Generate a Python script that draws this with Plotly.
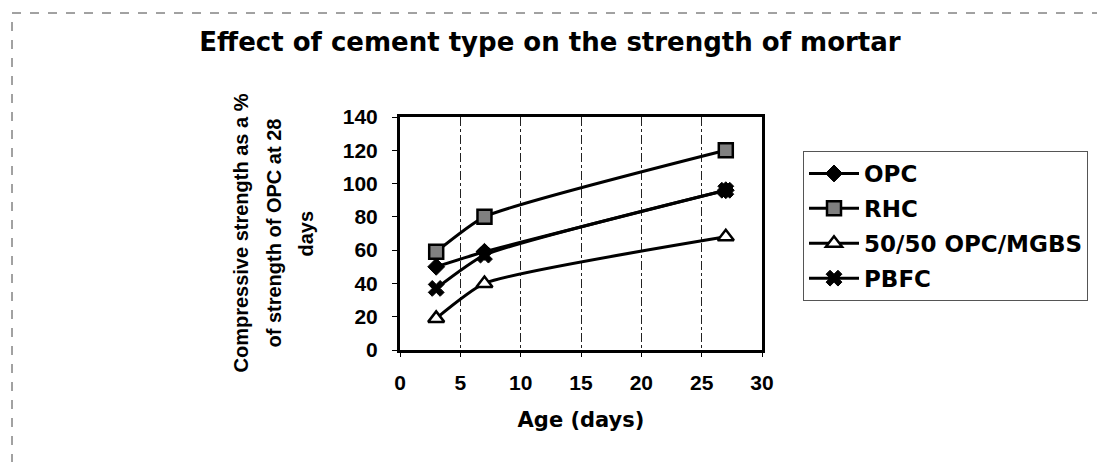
import plotly.graph_objects as go

# Data
age_days = [3, 7, 27]
opc = [50, 59, 96]
rhc = [59, 80, 120]
opc_mgbs = [19, 40, 68]
pbfc = [37, 57, 96]

series_names = ["OPC", "RHC", "50/50 OPC/MGBS", "PBFC"]
series_values = [opc, rhc, opc_mgbs, pbfc]

x_ticks = [0, 5, 10, 15, 20, 25, 30]
y_ticks = [0, 20, 40, 60, 80, 100, 120, 140]

title_text = "Effect of cement type on the strength of mortar"
y_title_lines = ["Compressive strength as a %", "of strength of OPC at 28", "days"]
x_title_text = "Age (days)"

marker_styles = [
    dict(symbol="diamond", size=13, color="black", line=dict(color="black", width=1)),
    dict(symbol="square", size=14, color="#808080", line=dict(color="black", width=2.5)),
    dict(symbol="triangle-up", size=14, color="white", line=dict(color="black", width=2.5)),
    dict(symbol="x", size=14, color="black", line=dict(color="black", width=1)),
]

# page offset of the figure (default body margin)
OFF = 8
FIG_W, FIG_H = 1105 - 2 * OFF, 470 - 2 * OFF

# plot area in page pixels
PL, PR, PT, PB = 400, 762, 117, 350
PW, PH = PR - PL, PB - PT

def px_x(px):
    return (px - PL) / PW

def px_y(py):
    return (PB - py) / PH

fig = go.Figure()
for i, (name, vals) in enumerate(zip(series_names, series_values)):
    fig.add_trace(go.Scatter(
        x=age_days, y=vals, name=name, mode="lines+markers",
        line=dict(color="black", width=3, shape="spline", smoothing=0.5),
        marker=marker_styles[i], legendgroup=name,
    ))

tick_font = dict(family="Liberation Sans, Arial, sans-serif", size=21, color="black", weight="bold")
wide_font = "DejaVu Sans, sans-serif"

fig.update_layout(
    width=FIG_W, height=FIG_H,
    margin=dict(l=PL - OFF, r=FIG_W - (PR - OFF), t=PT - OFF, b=FIG_H - (PB - OFF), autoexpand=False),
    paper_bgcolor="white", plot_bgcolor="white",
    title=dict(text=title_text, x=(550 - OFF) / FIG_W, xanchor="center", xref="container",
               y=1 - (42 - OFF) / FIG_H, yanchor="middle", yref="container",
               font=dict(family=wide_font, size=26, color="black", weight="bold")),
    showlegend=True,
    legend=dict(x=px_x(803), y=px_y(151), xanchor="left", yanchor="top",
                xref="paper", yref="paper",
                font=dict(family=wide_font, size=23, color="black", weight="bold"),
                bordercolor="#555", borderwidth=1, bgcolor="white",
                tracegroupgap=2, itemwidth=50),
)

fig.update_xaxes(
    range=[0, 30], tickvals=x_ticks, ticktext=[str(v) for v in x_ticks],
    showline=True, linecolor="black", linewidth=3, mirror=True,
    ticks="outside", ticklen=4, tickcolor="black", tickwidth=1,
    ticklabelstandoff=8,
    showgrid=True, gridcolor="#222", gridwidth=1, griddash="dashdot",
    zeroline=False, tickfont=tick_font,
    title=dict(text=x_title_text, standoff=20,
               font=dict(family=wide_font, size=21, color="black", weight="bold")),
)
fig.update_yaxes(
    range=[0, 140], tickvals=y_ticks, ticktext=[str(v) for v in y_ticks],
    showline=True, linecolor="black", linewidth=3, mirror=True,
    ticks="outside", ticklen=5, tickcolor="black", tickwidth=1,
    ticklabelstandoff=10,
    showgrid=False, zeroline=False, tickfont=tick_font,
)

# Multi-line y-axis title, placed line by line
for cx, line in zip([240, 273, 305], y_title_lines):
    fig.add_annotation(
        text=line, x=px_x(cx), y=0.5, xref="paper", yref="paper",
        xanchor="center", yanchor="middle", textangle=-90, showarrow=False,
        font=dict(family="Liberation Sans, Arial, sans-serif", size=20, color="black", weight="bold"),
    )

# Outer dashed chart-area border
fig.add_shape(type="rect", xref="paper", yref="paper",
              x0=px_x(12), x1=px_x(1115), y0=px_y(480), y1=px_y(13),
              line=dict(color="#444", width=1, dash="dash"), layer="below")

fig.write_html("out.html")
